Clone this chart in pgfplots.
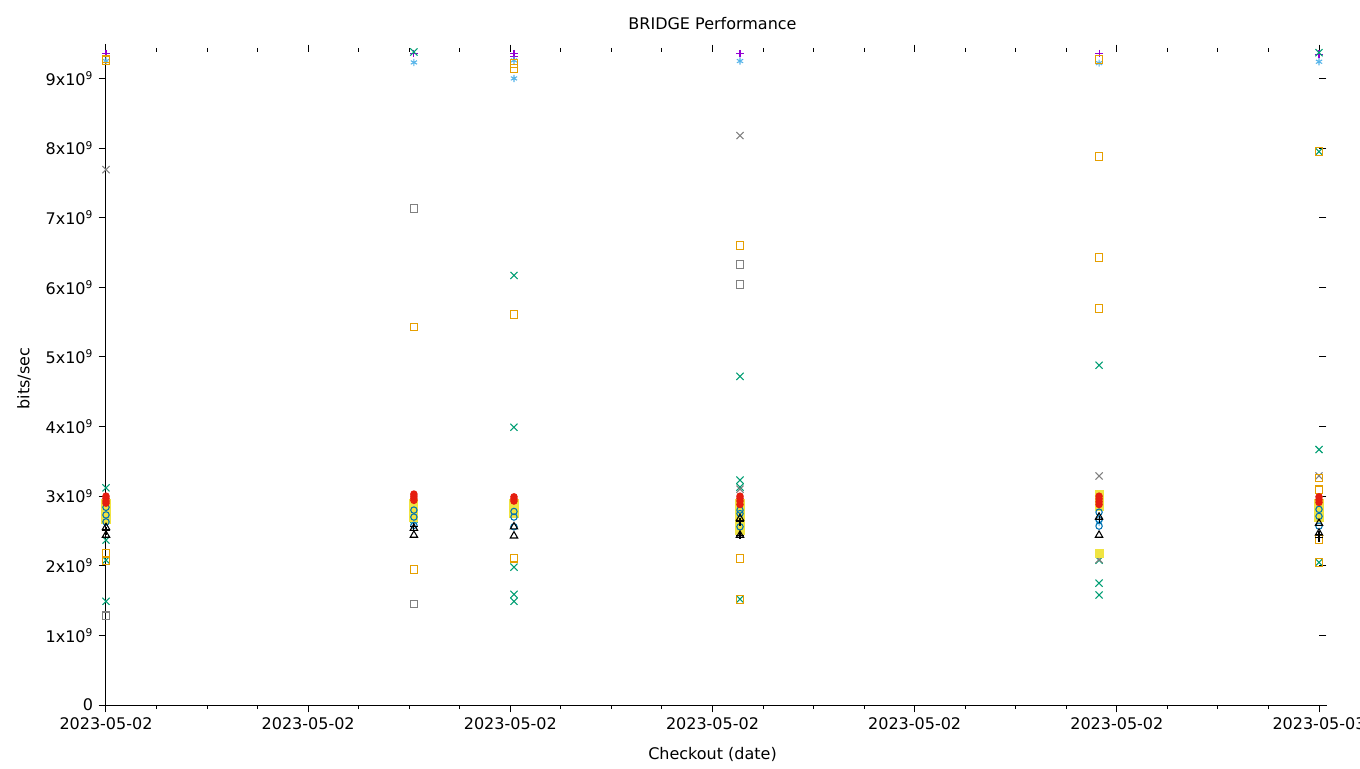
\documentclass[border=0pt]{standalone}
\usepackage{pgfplots}
\pgfplotsset{compat=1.18}
\usepackage{fontspec}
\setmainfont{DejaVu Sans}
\definecolor{gpurple}{RGB}{148,0,211}
\definecolor{gteal}{RGB}{0,158,115}
\definecolor{gsky}{RGB}{86,180,233}
\definecolor{gorange}{RGB}{230,159,0}
\definecolor{gyellow}{RGB}{240,228,66}
\definecolor{gblue}{RGB}{0,114,178}
\definecolor{gred}{RGB}{229,30,16}
\definecolor{ggray}{RGB}{128,128,128}
\begin{document}
\fontsize{12pt}{14pt}\selectfont
\begin{tikzpicture}[x=0.75pt,y=0.75pt]
\begin{axis}[
  name=ax,
  scale only axis, width=909.75pt, height=489.75pt,
  xmin=0, xmax=6, ymin=0, ymax=9.38,
  clip=false,
  xtick={0,1,2,3,4,5,6},
  xticklabels={2023-05-02,2023-05-02,2023-05-02,2023-05-02,2023-05-02,2023-05-02,2023-05-03},
  minor x tick num=3,
  ytick={0,1,2,3,4,5,6,7,8,9},
  yticklabels={0,1x10\textsuperscript{9},2x10\textsuperscript{9},3x10\textsuperscript{9},4x10\textsuperscript{9},5x10\textsuperscript{9},6x10\textsuperscript{9},7x10\textsuperscript{9},8x10\textsuperscript{9},9x10\textsuperscript{9}},
  tick align=outside,
  major tick length=5.5pt, minor tick length=3pt,
  tick style={black, line width=0.75pt},
  axis line style={draw=none},
  title={BRIDGE Performance},
  title style={at={(axis description cs:0.5,1.032)}, anchor=center},
  xlabel={Checkout (date)},
  xlabel style={at={(axis description cs:0.5,-0.075)}, anchor=center},
  ylabel={bits/sec},
  ylabel style={at={(axis description cs:-0.0676,0.5)}, anchor=center},
  every axis plot/.append style={only marks, line width=0.8pt},
]
\draw[black, line width=0.75pt] ([yshift=6pt]rel axis cs:0,1) -- (rel axis cs:0,0) -- ([xshift=6pt]rel axis cs:1,0);
% purple +
\addplot[gpurple, mark=+, mark size=2.7pt] coordinates {(0,9.36) (1.523,9.36) (2.018,9.36) (2.018,9.32) (3.136,9.36) (4.912,9.36) (6,9.35)};
% teal x
\addplot[gteal, mark=x, mark size=3.8pt] coordinates {
 (0,3.12) (0,2.37) (0,2.08) (0,1.49)
 (1.523,9.38) (1.523,2.67)
 (2.018,6.17) (2.018,3.99) (2.018,1.98) (2.018,1.59) (2.018,1.49)
 (3.136,4.72) (3.136,3.23) (3.136,3.13) (3.136,1.52)
 (4.912,4.88) (4.912,2.08) (4.912,1.75) (4.912,1.58)
 (6,9.37) (6,7.95) (6,3.67) (6,2.05)};
% gray x
\addplot[ggray, mark=x, mark size=3.8pt] coordinates {(0,7.69) (3.136,8.18) (3.136,3.10) (4.912,3.29) (4.912,2.09) (6,3.29)};
% light blue *
\addplot[gsky, mark=asterisk, mark size=2.7pt] coordinates {(0,9.25) (1.523,9.23) (2.018,9.26) (2.018,9.0) (3.136,9.25) (4.912,9.22) (6,9.24) (4.912,2.62) (1.523,2.62)};
% orange open squares
\addplot[gorange, mark=square, mark size=2.9pt] coordinates {
 (0,9.28) (0,9.26) (0,2.18) (0,2.08)
 (1.523,5.43) (1.523,1.95)
 (2.018,9.21) (2.018,9.14) (2.018,5.61) (2.018,2.11)
 (3.136,6.60) (3.136,2.10) (3.136,1.52)
 (4.912,9.27) (4.912,7.88) (4.912,6.43) (4.912,5.70)
 (6,7.95) (6,3.26) (6,3.09) (6,2.38) (6,2.05)};
% gray open squares
\addplot[ggray, mark=square, mark size=2.9pt] coordinates {(0,1.28) (1.523,7.13) (1.523,1.45) (3.136,6.33) (3.136,6.04)};
% yellow filled squares
\addplot[gyellow, mark=square*, mark size=3.0pt] coordinates {
 (0,2.90) (0,2.85) (0,2.80) (0,2.75) (0,2.70) (0,2.66)
 (1.523,2.90) (1.523,2.85) (1.523,2.80) (1.523,2.75) (1.523,2.70)
 (2.018,2.90) (2.018,2.85) (2.018,2.80) (2.018,2.75)
 (3.136,2.90) (3.136,2.85) (3.136,2.80) (3.136,2.70) (3.136,2.60) (3.136,2.50)
 (4.912,3.02) (4.912,2.95) (4.912,2.88) (4.912,2.85) (4.912,2.18)
 (6,2.90) (6,2.85) (6,2.80) (6,2.75) (6,2.70)};
% blue open circles
\addplot[gblue, mark=o, mark size=2.4pt] coordinates {
 (0,2.84) (0,2.73) (0,2.63)
 (1.523,2.80) (1.523,2.70) (1.523,2.58)
 (2.018,2.78) (2.018,2.70) (2.018,2.56)
 (3.136,2.80) (3.136,2.75) (3.136,2.56)
 (4.912,2.77) (4.912,2.66) (4.912,2.57)
 (6,2.81) (6,2.71) (6,2.57)};
% red filled circles
\addplot[gred, mark=*, mark size=2.4pt] coordinates {
 (0,3.00) (0,2.97) (0,2.93) (0,2.90)
 (1.523,3.03) (1.523,3.00) (1.523,2.97) (1.523,2.94)
 (2.018,2.99) (2.018,2.96) (2.018,2.93)
 (3.136,3.00) (3.136,2.97) (3.136,2.93) (3.136,2.88)
 (4.912,3.00) (4.912,2.96) (4.912,2.92) (4.912,2.88)
 (6,2.99) (6,2.95) (6,2.91)};
% black triangles
\addplot[black, mark=triangle, mark size=3.2pt] coordinates {
 (0,2.55) (0,2.44) (1.523,2.54) (1.523,2.44) (2.018,2.56) (2.018,2.43)
 (3.136,2.68) (3.136,2.44) (4.912,2.70) (4.912,2.44) (6,2.61) (6,2.47)};
% black +
\addplot[black, mark=+, mark size=2.7pt] coordinates {(0,2.50) (1.523,2.56) (3.136,2.63) (3.136,2.44) (4.912,2.66) (6,2.45) (6,2.40)};
\end{axis}
\pgfresetboundingbox
\path ([shift={(-106,-63)}]ax.south west) rectangle ([shift={(41,52)}]ax.north east);
\end{tikzpicture}
\end{document}
